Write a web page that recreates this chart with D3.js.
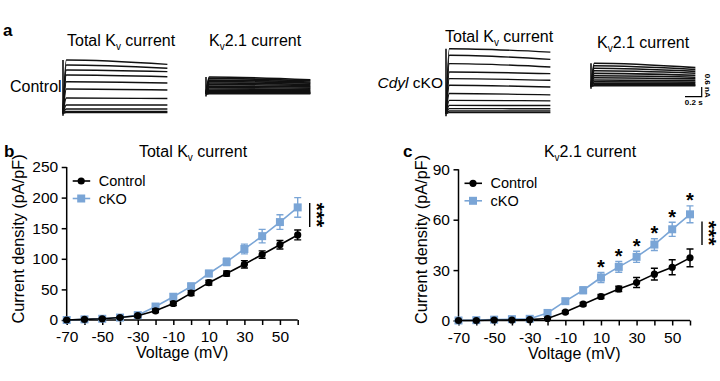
<!DOCTYPE html>
<html>
<head>
<meta charset="utf-8">
<script src="https://cdn.jsdelivr.net/npm/d3@7"></script>
<style>
body { margin:0; background:#fff; }
svg text { font-family:"Liberation Sans", Arial, sans-serif; fill:#000; }
</style>
</head>
<body>
<script>
// I-V data (pA/pF)
var voltages = [-70,-60,-50,-40,-30,-20,-10,0,10,20,30,40,50,60];
var tickLabels = [-70,-50,-30,-10,10,30,50];

var totalCtrl    = [0,1,2,4,7,15,27,44,61,76,91,107,123,139];
var totalCtrlErr = [0.5,0.8,1,1.5,2,3,3.5,4,4,4,6,6,7,8];
var totalKO      = [0,1,2,4,8,22,38,55,76,95,116,137,160,184];
var totalKOErr   = [0.5,0.8,1,1.5,2,4,5,5,5,6,8,11,12,16];

var kvCtrl    = [0,0,0.3,0.3,0.5,1.2,5,9.7,14.3,18.8,22.6,27.6,31.7,37.3];
var kvCtrlErr = [0.2,0.2,0.3,0.3,0.4,0.5,0.8,1,1.2,1.6,3,3.5,4.5,5.3];
var kvKO      = [0,0.2,0.5,0.8,1,4.5,11.5,18,25.6,31.9,37.9,45.2,54.3,63.2];
var kvKOErr   = [0.2,0.2,0.3,0.4,0.5,1,1.5,2,3,3.2,3.3,3.5,4.2,5];
var kvSig     = [10,20,30,40,50,60];

// example current traces (nA): amplitude at peak and at end of 1.25 s step
var traceTime = [0, 0.04, 1.25];
var ctrlTotalPeak = [3.29,2.98,2.67,2.36,1.95,1.50,0.94,0.51,0.27,0.11,0.05];
var ctrlTotalEnd  = [3.02,2.78,2.57,2.26,1.87,1.44,0.91,0.51,0.27,0.11,0.05];
var koTotalPeak = [4.02,3.61,3.10,2.58,2.17,1.76,1.25,0.83,0.52,0.32,0.17,0.07];
var koTotalEnd  = [3.81,3.36,2.89,2.48,2.07,1.65,1.17,0.80,0.51,0.31,0.17,0.07];
var ctrlKvPeak = [1.05,0.96,0.86,0.77,0.68,0.59,0.49,0.40,0.31,0.23,0.16,0.10,0.05,0.02];
var ctrlKvEnd  = [0.88,0.82,0.74,0.67,0.60,0.52,0.44,0.36,0.28,0.21,0.15,0.09,0.05,0.02];
var koKvPeak = [1.42,1.27,1.11,0.96,0.80,0.65,0.53,0.39,0.28,0.19,0.10,0.04];
var koKvEnd  = [1.15,1.04,0.92,0.81,0.68,0.56,0.46,0.34,0.25,0.17,0.09,0.04];

var blue = "#7aa5d6";
var width = 720, height = 381;

var svg = d3.select("body").append("svg").attr("width",width).attr("height",height);

// ---------- panel a: traces ----------
var pxPerNA = 16.2, pxPerS = 83.5;

function drawTraces(x0, base, peaks, ends, sw){
  var x = d3.scaleLinear().domain([0,1]).range([x0, x0+pxPerS]);
  var y = d3.scaleLinear().domain([0,1]).range([base, base-pxPerNA]);
  var g = svg.append("g");
  var line = d3.line().x(function(d){ return x(d[0]); }).y(function(d){ return y(d[1]); }).curve(d3.curveMonotoneX);
  g.selectAll("path")
    .data(peaks.map(function(p,i){ return [[traceTime[0],0],[traceTime[1],p],[traceTime[2],ends[i]]]; }))
    .enter().append("path")
      .attr("d", line)
      .attr("fill","none").attr("stroke","#111").attr("stroke-width",sw);
  // step onset
  g.append("line")
    .attr("x1",x(0)).attr("x2",x(0))
    .attr("y1",base+2.5).attr("y2",y(d3.max(peaks)))
    .attr("stroke","#111").attr("stroke-width",1.6);
  return {x:x, y:y};
}

function kvTitle(x, y, pre, post){
  var t = svg.append("text").attr("x",x).attr("y",y).attr("font-size",16);
  t.append("tspan").text(pre);
  t.append("tspan").attr("font-size",10).attr("dy",4).text("v");
  t.append("tspan").attr("dy",-4).text(post);
  return t;
}

svg.append("text").attr("x",3).attr("y",36).attr("font-size",17).attr("font-weight","bold").text("a");
kvTitle(67, 45.7, "Total K", " current");
kvTitle(209, 45.7, "K", "2.1 current");
kvTitle(445, 41.7, "Total K", " current");
kvTitle(597, 48.3, "K", "2.1 current");
svg.append("text").attr("x",10).attr("y",91.7).attr("font-size",16).text("Control");
var cd = svg.append("text").attr("x",443).attr("y",88.3).attr("font-size",15.5).attr("text-anchor","end");
cd.append("tspan").attr("font-style","italic").text("Cdyl");
cd.append("tspan").text(" cKO");

drawTraces(63, 113.3, ctrlTotalPeak, ctrlTotalEnd, 1.4);
drawTraces(206, 94, ctrlKvPeak, ctrlKvEnd, 1.7);
drawTraces(446, 113.8, koTotalPeak, koTotalEnd, 1.4);
drawTraces(591, 86.3, koKvPeak, koKvEnd, 1.6);

// scale bar: 0.2 s, 0.6 nA
var sbX = 701.7, sbY = 96.7;
svg.append("path")
  .attr("d","M"+(sbX-0.2*pxPerS)+","+sbY+"H"+sbX+"V"+(sbY-0.6*pxPerNA))
  .attr("fill","none").attr("stroke","#000").attr("stroke-width",1.2);
svg.append("text").attr("x",sbX-8).attr("y",sbY+8).attr("font-size",8).attr("font-weight","bold")
  .attr("text-anchor","middle").text("0.2 s");
svg.append("text").attr("font-size",8).attr("font-weight","bold").attr("text-anchor","middle")
  .attr("transform","translate("+(sbX+3)+","+(sbY-11)+") rotate(90)").text("0.6 nA");

// ---------- panels b, c: I-V curves ----------
function drawIV(o){
  var x = d3.scaleLinear().domain([-70,60]).range([o.left, o.right]);
  var y = d3.scaleLinear().domain([0,o.ymax]).range([o.bottom, o.top]);
  var g = svg.append("g");

  var xAxis = d3.axisBottom(x).tickValues(voltages).tickSize(5).tickPadding(6)
    .tickFormat(function(d){ return tickLabels.indexOf(d) >= 0 ? d : ""; });
  var gx = g.append("g").attr("transform","translate(0,"+o.bottom+")").call(xAxis);
  var gy = g.append("g").attr("transform","translate("+o.left+",0)")
    .call(d3.axisLeft(y).tickValues(o.yticks).tickSize(5).tickPadding(3.5));
  [gx, gy].forEach(function(a){
    a.attr("font-size",15.5).attr("font-family","Liberation Sans, Arial, sans-serif");
    a.select(".domain").attr("stroke-width",1.5).attr("stroke","#000");
    a.selectAll(".tick line").attr("stroke-width",1.5).attr("stroke","#000");
  });
  gx.select(".domain").attr("d","M"+o.left+",0H"+o.right);
  gy.select(".domain").attr("d","M0,"+o.top+"V"+o.bottom);

  g.append("text").attr("x",(o.left+o.right)/2).attr("y",o.bottom+38).attr("font-size",16)
    .attr("text-anchor","middle").text("Voltage (mV)");
  g.append("text").attr("font-size",16.3).attr("text-anchor","middle")
    .attr("transform","translate("+(o.yTitleX)+","+(o.bottom-81)+") rotate(-90)")
    .text("Current density (pA/pF)");
  g.append("text").attr("x",o.letterX).attr("y",157).attr("font-size",17).attr("font-weight","bold").text(o.letter);
  var tt = g.append("text").attr("x",o.titleX).attr("y",157).attr("font-size",16).attr("text-anchor","middle");
  tt.append("tspan").text(o.titlePre);
  tt.append("tspan").attr("font-size",10).attr("dy",4).text("v");
  tt.append("tspan").attr("dy",-4).text(o.titlePost);

  var series = [
    {mean:o.ko, err:o.koErr, color:blue, shape:"square"},
    {mean:o.ctrl, err:o.ctrlErr, color:"#000", shape:"circle"}
  ];
  series.forEach(function(s){
    var pts = voltages.map(function(v,i){ return {v:v, m:s.mean[i], e:s.err[i]}; });
    var sg = g.append("g");
    sg.append("path").datum(pts)
      .attr("d", d3.line().x(function(d){ return x(d.v); }).y(function(d){ return y(d.m); }))
      .attr("fill","none").attr("stroke",s.color).attr("stroke-width",1.6);
    var eb = sg.selectAll("g.eb").data(pts).enter().append("g").attr("class","eb");
    eb.append("path")
      .attr("d", function(d){
        var cx = x(d.v), t = y(d.m+d.e), b = y(d.m-d.e);
        return "M"+(cx-3.5)+","+t+"H"+(cx+3.5)+"M"+cx+","+t+"V"+b+"M"+(cx-3.5)+","+b+"H"+(cx+3.5);
      })
      .attr("stroke",s.color).attr("stroke-width",1.4).attr("fill","none");
    if (s.shape === "circle") {
      eb.append("circle").attr("cx",function(d){ return x(d.v); }).attr("cy",function(d){ return y(d.m); })
        .attr("r",3.6).attr("fill",s.color);
    } else {
      eb.append("rect").attr("x",function(d){ return x(d.v)-4; }).attr("y",function(d){ return y(d.m)-4; })
        .attr("width",8).attr("height",8).attr("fill",s.color);
    }
  });

  // legend
  var lg = g.append("g").attr("transform","translate("+(o.left+6)+","+(o.top+14)+")");
  [["Control","#000","circle"],["cKO",blue,"square"]].forEach(function(l,i){
    var row = lg.append("g").attr("transform","translate(0,"+(i*17.5)+")");
    row.append("line").attr("x1",0).attr("x2",17.5).attr("stroke",l[1]).attr("stroke-width",1.6);
    if (l[2]==="circle") row.append("circle").attr("cx",8.5).attr("r",3.6).attr("fill",l[1]);
    else row.append("rect").attr("x",4.5).attr("y",-4).attr("width",8).attr("height",8).attr("fill",l[1]);
    row.append("text").attr("x",26).attr("y",5).attr("font-size",14.5).text(l[0]);
  });

  // significance
  var bx = x(60) + 12;
  g.append("line").attr("x1",bx).attr("x2",bx).attr("y1",y(o.barTop)).attr("y2",y(o.barBottom))
    .attr("stroke","#000").attr("stroke-width",1.4);
  var mid = (y(o.barTop)+y(o.barBottom))/2;
  g.append("text").attr("font-size",21).attr("font-weight","bold").attr("text-anchor","middle")
    .attr("transform","translate("+(bx)+","+mid+") rotate(90)").text("***");
  if (o.sig) {
    o.sig.forEach(function(v){
      var i = voltages.indexOf(v);
      g.append("text").attr("x",x(v)).attr("y",y(o.ko[i]+o.koErr[i])+1.5).attr("font-size",20)
        .attr("font-weight","bold").attr("text-anchor","middle").text("*");
    });
  }
}

drawIV({left:66.7, right:297.7, top:167, bottom:320, ymax:250, yticks:[0,50,100,150,200,250],
  ctrl:totalCtrl, ctrlErr:totalCtrlErr, ko:totalKO, koErr:totalKOErr,
  letter:"b", letterX:4, titleX:193, titlePre:"Total K", titlePost:" current", yTitleX:24,
  barTop:191, barBottom:152});

drawIV({left:458.5, right:690, top:169.3, bottom:320.5, ymax:90, yticks:[0,30,60,90],
  ctrl:kvCtrl, ctrlErr:kvCtrlErr, ko:kvKO, koErr:kvKOErr, sig:kvSig,
  letter:"c", letterX:403, titleX:590, titlePre:"K", titlePost:"2.1 current", yTitleX:427,
  barTop:59, barBottom:45});
</script>
</body>
</html>
